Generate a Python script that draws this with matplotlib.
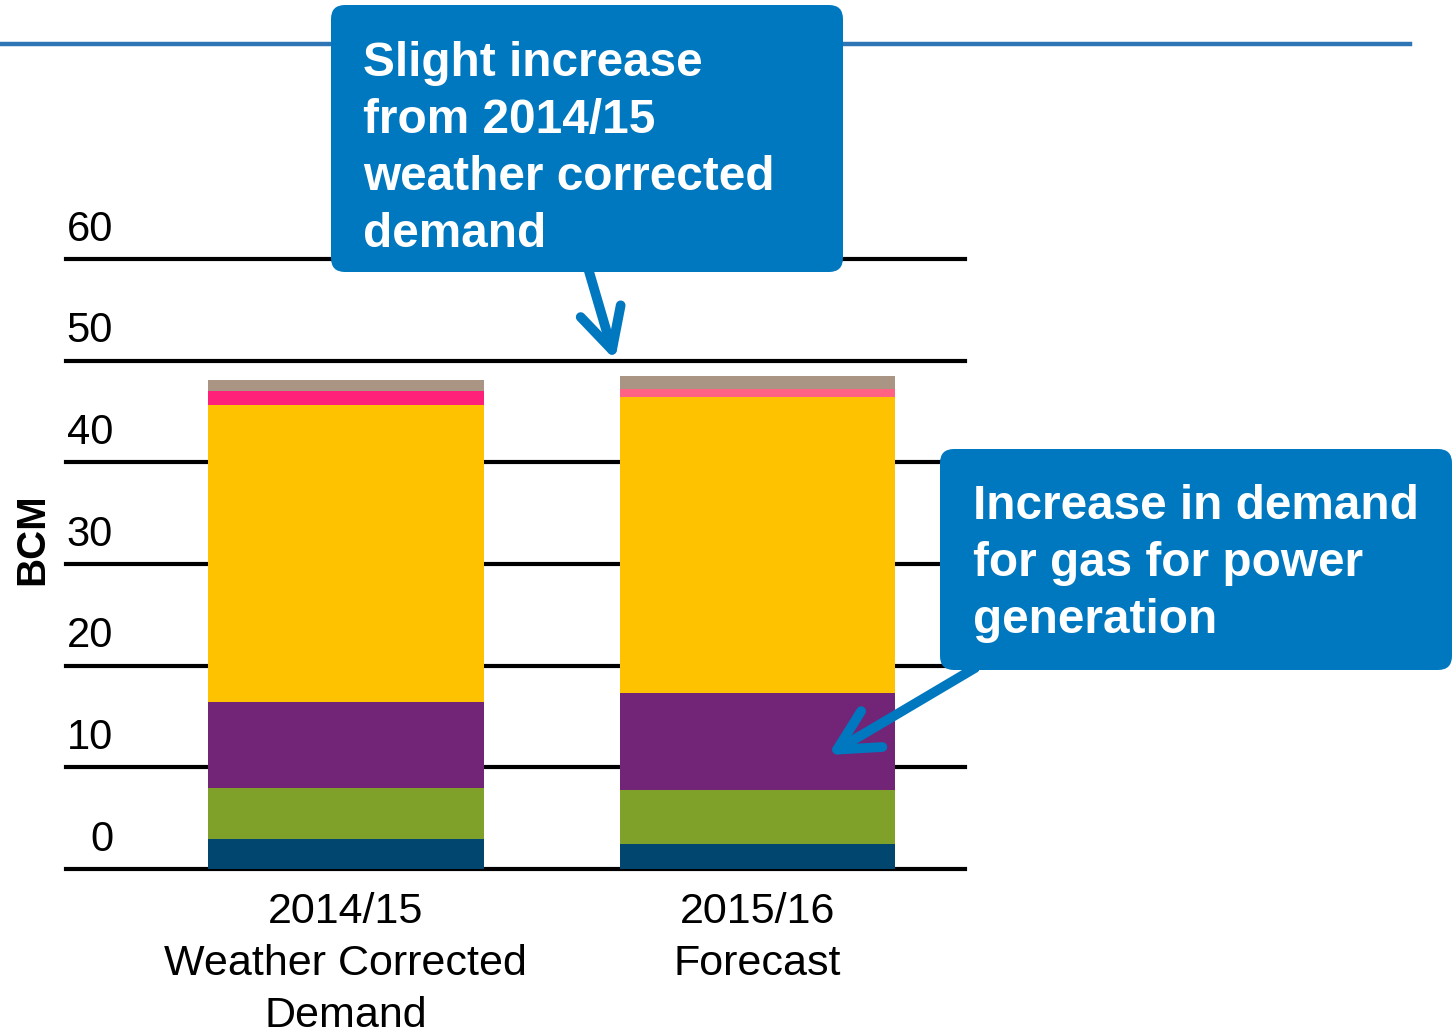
import matplotlib.pyplot as plt
from matplotlib.patches import FancyBboxPatch

plt.rcParams["font.family"] = ["Liberation Sans", "DejaVu Sans"]

W, H = 1456, 1033

# stacked segments, bottom to top (BCM)
bar_labels = ["2014/15\nWeather Corrected\nDemand", "2015/16\nForecast"]
seg_1 = [2.95, 2.46]    # dark blue
seg_2 = [5.05, 5.31]    # green
seg_3 = [8.4, 9.53]     # purple (power generation)
seg_4 = [29.2, 29.1]    # yellow
seg_5 = [1.4, 0.8]      # pink
seg_6 = [1.1, 1.3]      # grey-brown
segments = [seg_1, seg_2, seg_3, seg_4, seg_5, seg_6]
seg_colors = ["#00466F", "#80A129", "#722476", "#FFC200",
              ["#FF2179", "#FF6282"], "#AA9484"]

y_ticks = [0, 10, 20, 30, 40, 50, 60]

note_1 = "Slight increase\nfrom 2014/15\nweather corrected\ndemand"
note_2 = "Increase in demand\nfor gas for power\ngeneration"

box_blue = "#0078BF"

fig = plt.figure(figsize=(W / 100, H / 100), dpi=100)

# main chart area in pixel terms
x0, x1 = 66, 965
y_top, y_bot = 259, 869
ax = fig.add_axes([x0 / W, (H - y_bot) / H, (x1 - x0) / W, (y_bot - y_top) / H])
ax.set_xlim(-0.68, 1.504)
ax.set_ylim(0, 60)
for s in ax.spines.values():
    s.set_visible(False)
ax.set_xticks([])
ax.set_yticks([])

for t in y_ticks:
    ax.axhline(t, color="black", lw=3, zorder=1, clip_on=False)
    ax.text(0.0523, t + 2.9, str(t), transform=ax.get_yaxis_transform(),
            ha="right", va="center", fontsize=30, color="black")

xpos = [0, 1]
bottom = [0, 0]
for vals, col in zip(segments, seg_colors):
    ax.bar(xpos, vals, bottom=bottom, width=0.67, color=col, zorder=2)
    bottom = [b + v for b, v in zip(bottom, vals)]

for x, lab in zip(xpos, bar_labels):
    ax.text(x, -2.3, lab, ha="center", va="top", fontsize=31,
            linespacing=1.38, color="black")

ax.text(-0.038, 32.4, "BCM", transform=ax.get_yaxis_transform(),
        rotation=90, ha="center", va="center", fontsize=29, fontweight="bold")

# overlay in pixel coordinates for the callouts
ov = fig.add_axes([0, 0, 1, 1], zorder=5)
ov.set_xlim(0, W)
ov.set_ylim(H, 0)
ov.axis("off")
ov.patch.set_alpha(0)

ov.plot([0, 1410], [44, 44], color="#2E75B6", lw=3.2, zorder=1)

for (bx0, by0, bx1, by1) in [(331, 5, 843, 272), (940, 449, 1452, 670)]:
    ov.add_patch(FancyBboxPatch((bx0, by0), bx1 - bx0, by1 - by0,
                                boxstyle="round,pad=0,rounding_size=14",
                                fc=box_blue, ec="none", zorder=2))

# baseline given for the last line
ov.text(363, 247, note_1, ha="left", va="baseline", fontsize=34.4,
        fontweight="bold", color="white", linespacing=1.34, zorder=3)
ov.text(973, 633, note_2, ha="left", va="baseline", fontsize=34.4,
        fontweight="bold", color="white", linespacing=1.34, zorder=3)

arrow = dict(arrowstyle="->,head_length=2.9,head_width=1.5", color=box_blue,
             lw=7, capstyle="round", joinstyle="round", shrinkA=0, shrinkB=0)
ov.annotate("", xy=(615, 360), xytext=(588, 268), arrowprops=arrow, zorder=3)
ov.annotate("", xy=(828, 755), xytext=(975, 668), arrowprops=arrow, zorder=3)

fig.savefig("out.png", dpi=100)
